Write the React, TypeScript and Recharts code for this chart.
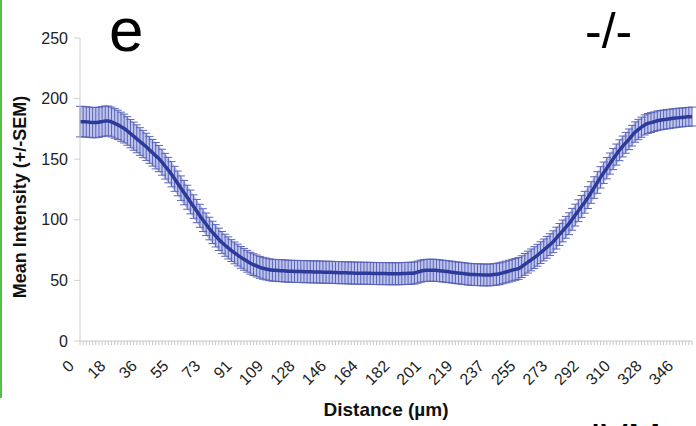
import React from "react";
import { ComposedChart, Line, Area, XAxis, YAxis, ErrorBar } from "recharts";

// Mean intensity per sample (distance step ≈ 1.823 µm)
const meanIntensity: number[] = [
  181, 181, 180.8, 180.5, 180.2, 180.2, 180.5, 181, 181.5, 181.5,
  180.7, 179.5, 178.3, 176.8, 175.3, 173.3, 171.1, 169, 166.8, 164.6,
  162.5, 160.2, 157.7, 155.3, 152.9, 150.5, 147.5, 144.2, 141, 137.6,
  133.8, 130, 126.1, 122.4, 118.6, 114.7, 110.9, 107.2, 103.3, 99.7,
  96.3, 92.8, 89.6, 86.8, 83.9, 81.2, 79, 76.8, 74.6, 72.7,
  70.9, 69, 67.4, 65.8, 64.2, 63, 61.9, 60.8, 60, 59.4,
  58.8, 58.4, 58.3, 58.1, 58, 57.8, 57.6, 57.5, 57.4, 57.4,
  57.3, 57.2, 57.2, 57.1, 57, 57, 56.9, 56.8, 56.7, 56.7,
  56.6, 56.5, 56.4, 56.4, 56.3, 56.2, 56.1, 56, 56, 55.9,
  55.9, 55.8, 55.8, 55.7, 55.7, 55.6, 55.6, 55.6, 55.5, 55.5,
  55.5, 55.5, 55.6, 55.7, 55.8, 55.9, 56.1, 56.8, 57.6, 58.1,
  58.3, 58.4, 58.4, 58.2, 58, 57.7, 57.4, 57.1, 56.8, 56.4,
  56.1, 55.8, 55.5, 55.2, 54.9, 54.8, 54.7, 54.6, 54.5, 54.5,
  54.5, 54.8, 55.1, 55.5, 56.2, 56.9, 57.6, 58.4, 59.1, 59.8,
  61.3, 63.2, 65.1, 66.9, 68.8, 70.7, 72.9, 75.1, 77.3, 79.5,
  81.9, 84.9, 87.9, 90.8, 93.8, 96.8, 100.4, 103.9, 107.5, 111,
  114.5, 118.3, 122.5, 126.6, 130.8, 135, 138.8, 142.6, 146.4, 150.1,
  153.8, 157.4, 160.5, 163.5, 166.4, 169.4, 172.4, 174.5, 176.4, 178.3,
  179.5, 180.2, 180.9, 181.7, 182.2, 182.6, 183, 183.3, 183.7, 184,
  184.3, 184.5, 184.8, 185, 185.2,
];

// SEM per sample
const semValues: number[] = [
  12.6, 12.6, 12.5, 12.5, 12.5, 12.5, 12.4, 12.4, 12.4, 12.3,
  12.3, 12.2, 12.1, 12.0, 11.9, 11.8, 11.7, 11.6, 11.5, 11.4,
  11.3, 11.2, 11.1, 11.0, 10.9, 10.8, 10.7, 10.6, 10.5, 10.4,
  10.3, 10.2, 10.1, 10.0, 9.9, 9.8, 9.7, 9.6, 9.5, 9.4,
  9.3, 9.3, 9.2, 9.2, 9.2, 9.1, 9.1, 9.1, 9.0, 9.0,
  9.0, 9.0, 9.0, 9.0, 9.0, 9.0, 9.0, 9.0, 9.0, 9.0,
  9.0, 9.0, 9.0, 9.1, 9.1, 9.1, 9.1, 9.1, 9.1, 9.1,
  9.1, 9.1, 9.1, 9.1, 9.1, 9.1, 9.1, 9.1, 9.1, 9.1,
  9.1, 9.1, 9.1, 9.1, 9.1, 9.1, 9.1, 9.1, 9.1, 9.1,
  9.1, 9.1, 9.1, 9.1, 9.1, 9.1, 9.1, 9.1, 9.1, 9.1,
  9.1, 9.1, 9.1, 9.1, 9.1, 9.1, 9.1, 9.1, 9.1, 9.1,
  9.1, 9.1, 9.1, 9.1, 9.0, 9.0, 9.0, 9.0, 9.0, 9.0,
  9.0, 9.0, 9.0, 9.0, 9.0, 9.0, 9.0, 9.0, 9.0, 9.0,
  9.0, 9.0, 9.0, 9.0, 9.0, 9.0, 9.0, 9.0, 9.0, 9.0,
  9.0, 9.0, 9.0, 9.0, 9.0, 9.0, 9.0, 9.0, 9.0, 9.0,
  9.0, 9.0, 9.0, 9.0, 9.0, 9.0, 9.0, 9.0, 9.0, 9.0,
  9.0, 9.0, 8.9, 8.9, 8.9, 8.8, 8.8, 8.8, 8.7, 8.7,
  8.7, 8.6, 8.6, 8.6, 8.5, 8.5, 8.4, 8.4, 8.3, 8.3,
  8.2, 8.2, 8.1, 8.1, 8.0, 8.0, 8.0, 7.9, 7.9, 7.9,
  7.8, 7.8, 7.8, 7.8, 7.8,
];

// Distance tick labels (µm), one for every 10th sample
const distanceLabels: string[] = [
  "0", "18", "36", "55", "73", "91", "109", "128", "146", "164",
  "182", "201", "219", "237", "255", "273", "292", "310", "328", "346",
];

const yTicks: number[] = [0, 50, 100, 150, 200, 250];

const FONT = "'Liberation Sans', Arial, Helvetica, sans-serif";

const data = meanIntensity.map((m, i) => ({
  i,
  mean: m,
  sem: semValues[i],
  band: [m - semValues[i], m + semValues[i]],
}));

const XTick = (props: any) => {
  const { x, payload } = props;
  const idx = Number(payload.value);
  if (idx % 10 !== 0) return <g />;
  const label = distanceLabels[idx / 10];
  const ax = x - 5;
  const ay = 367;
  return (
    <text
      x={ax}
      y={ay}
      transform={`rotate(-45, ${ax}, ${ay})`}
      textAnchor="end"
      fontSize={16}
      fill="#222"
      fontFamily={FONT}
    >
      {label}
    </text>
  );
};

export default function App() {
  return (
    <div
      style={{
        position: "absolute",
        left: 0,
        top: 0,
        width: 696,
        height: 426,
        background: "#ffffff",
        overflow: "hidden",
      }}
    >
      <ComposedChart
        width={696}
        height={426}
        data={data}
        margin={{ top: 38, right: 4, bottom: 25, left: 40 }}
      >
        <XAxis
          dataKey="i"
          type="category"
          interval={0}
          tick={XTick}
          tickLine={{ stroke: "#c8c8c8" }}
          axisLine={{ stroke: "#c8c8c8" }}
          tickSize={4}
          height={60}
        />
        <YAxis
          domain={[0, 250]}
          ticks={yTicks}
          width={40}
          tickSize={6}
          tickMargin={6}
          axisLine={{ stroke: "#d0d0d0" }}
          tickLine={{ stroke: "#d0d0d0" }}
          tick={{ fontSize: 16, fill: "#222", fontFamily: FONT }}
        />
        <Area
          dataKey="band"
          stroke="none"
          fill="#bfc4ec"
          fillOpacity={1}
          isAnimationActive={false}
          type="monotone"
          activeDot={false}
        />
        <Line
          dataKey="mean"
          type="monotone"
          stroke="#2c3a9a"
          strokeWidth={3.5}
          dot={false}
          activeDot={false}
          isAnimationActive={false}
        >
          <ErrorBar
            dataKey="sem"
            direction="y"
            width={4}
            stroke="#5964b8"
            strokeWidth={1}
            isAnimationActive={false}
          />
        </Line>
      </ComposedChart>
      <svg
        width={696}
        height={426}
        style={{ position: "absolute", left: 0, top: 0, pointerEvents: "none" }}
      >
        <line x1={1} y1={0} x2={1} y2={398} stroke="#55c046" strokeWidth={2} />
        <text x={109} y={51} fontSize={62} fontFamily={FONT} fill="#000">
          e
        </text>
        <text x={585} y={48} fontSize={50} fontFamily={FONT} fill="#000">
          -/-
        </text>
        <text x={590} y={452} fontSize={40} fontFamily={FONT} fill="#000">
          IVM
        </text>
        <text
          x={386}
          y={416}
          textAnchor="middle"
          fontSize={19}
          fontWeight="bold"
          fontFamily={FONT}
          fill="#111"
        >
          Distance (µm)
        </text>
        <text
          x={26}
          y={197}
          transform="rotate(-90, 26, 197)"
          textAnchor="middle"
          fontSize={18}
          fontWeight="bold"
          fontFamily={FONT}
          fill="#111"
        >
          Mean Intensity (+/-SEM)
        </text>
      </svg>
    </div>
  );
}
